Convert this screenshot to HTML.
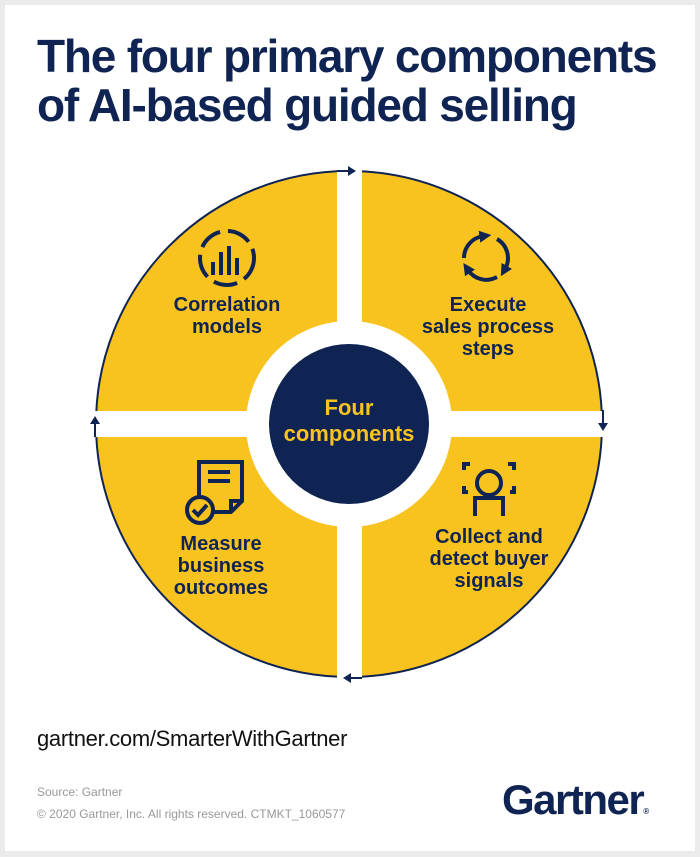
<!DOCTYPE html>
<html><head><meta charset="utf-8"><style>
body{margin:0;background:#ebebeb;}
.pg{position:relative;width:700px;height:857px;overflow:hidden;font-family:"Liberation Sans",sans-serif;}
.panel{position:absolute;left:5px;top:5px;width:690px;height:846px;background:#fff;}
.t{position:absolute;left:37px;top:32px;font-weight:bold;font-size:46px;line-height:49px;color:#0f2453;letter-spacing:-1.2px;white-space:nowrap;}
.url{position:absolute;left:37px;top:726px;font-size:22px;color:#111;letter-spacing:-0.3px;}
.src{position:absolute;left:37px;font-size:12px;color:#999;}
.logo{position:absolute;left:502px;top:776px;font-size:42px;font-weight:bold;color:#0f2453;letter-spacing:-1.5px;}
</style></head><body><div class="pg"><div class="panel"></div>
<div class="t">The four primary components<br>of AI-based guided selling</div>
<svg style="position:absolute;left:0;top:0" width="700" height="857">
<defs><marker id="ah" viewBox="0 0 10 10" refX="3" refY="5" markerWidth="3" markerHeight="3" orient="auto"><path d="M0 0 L10 5 L0 10Z" fill="#0f2453"/></marker></defs>
<circle cx="349" cy="424" r="253" fill="#f9c31f"/>
<circle cx="349" cy="424" r="253" fill="none" stroke="#0f2453" stroke-width="2"/>
<rect x="337" y="165" width="25" height="520" fill="#fff"/>
<rect x="90" y="411" width="520" height="26" fill="#fff"/>
<circle cx="349" cy="424" r="103" fill="#fff"/>
<circle cx="349" cy="424" r="80" fill="#0f2453"/>
<g fill="#0f2453">
<path d="M356 171 L348 166 L348 176Z"/>
<line x1="337" y1="171" x2="350" y2="171" stroke="#0f2453" stroke-width="2"/>
<path d="M603 431 L598 423 L608 423Z"/>
<line x1="603" y1="410" x2="603" y2="425" stroke="#0f2453" stroke-width="2"/>
<path d="M343 678 L351 673 L351 683Z"/>
<line x1="348" y1="678" x2="362" y2="678" stroke="#0f2453" stroke-width="2"/>
<path d="M95 416 L90 424 L100 424Z"/>
<line x1="95" y1="422" x2="95" y2="437" stroke="#0f2453" stroke-width="2"/>
</g>
<g stroke="#0f2453" stroke-width="4" fill="none">
<circle cx="227" cy="258" r="27" stroke-dasharray="24 8"/>
<line x1="213" y1="275" x2="213" y2="262"/><line x1="221" y1="275" x2="221" y2="252"/><line x1="229" y1="275" x2="229" y2="246"/><line x1="237" y1="275" x2="237" y2="258"/>
<path d="M464 258 A22 22 0 0 1 483 236.2" marker-end="url(#ah)"/>
<path d="M497 239 A22 22 0 0 1 505 269" marker-end="url(#ah)"/>
<path d="M497 277 A22 22 0 0 1 468 270" marker-end="url(#ah)"/>
<path d="M199 496 V462 H242 V501 L231 512 H213"/>
<line x1="208" y1="472" x2="230" y2="472"/><line x1="208" y1="481" x2="230" y2="481"/>
<path d="M231 512 V501 H242"/>
<circle cx="200" cy="510" r="13" fill="#f9c31f"/><path d="M193 510 L198 515 L207 505"/>
<circle cx="489" cy="483" r="12"/>
<path d="M475 516 V498 H503 V516"/>
<path d="M464 470 V464 H470 M508 464 H514 V470 M464 486 V492 H468 M514 486 V492 H510"/>
</g>
<g font-family="Liberation Sans,sans-serif" font-weight="bold" font-size="20" fill="#0f2453" text-anchor="middle">
<text x="227" y="311">Correlation</text><text x="227" y="333">models</text>
<text x="488" y="311">Execute</text><text x="488" y="333">sales process</text><text x="488" y="355">steps</text>
<text x="221" y="550">Measure</text><text x="221" y="572">business</text><text x="221" y="594">outcomes</text>
<text x="489" y="543">Collect and</text><text x="489" y="565">detect buyer</text><text x="489" y="587">signals</text>
<text x="349" y="415" font-size="22" fill="#f9c31f">Four</text><text x="349" y="441" font-size="22" fill="#f9c31f">components</text>
</g></svg>
<div class="url">gartner.com/SmarterWithGartner</div>
<div class="src" style="top:785px">Source: Gartner</div>
<div class="src" style="top:807px">© 2020 Gartner, Inc. All rights reserved. CTMKT_1060577</div>
<div class="logo">Gartner<span style="font-size:8px">®</span></div>
</div></body></html>
